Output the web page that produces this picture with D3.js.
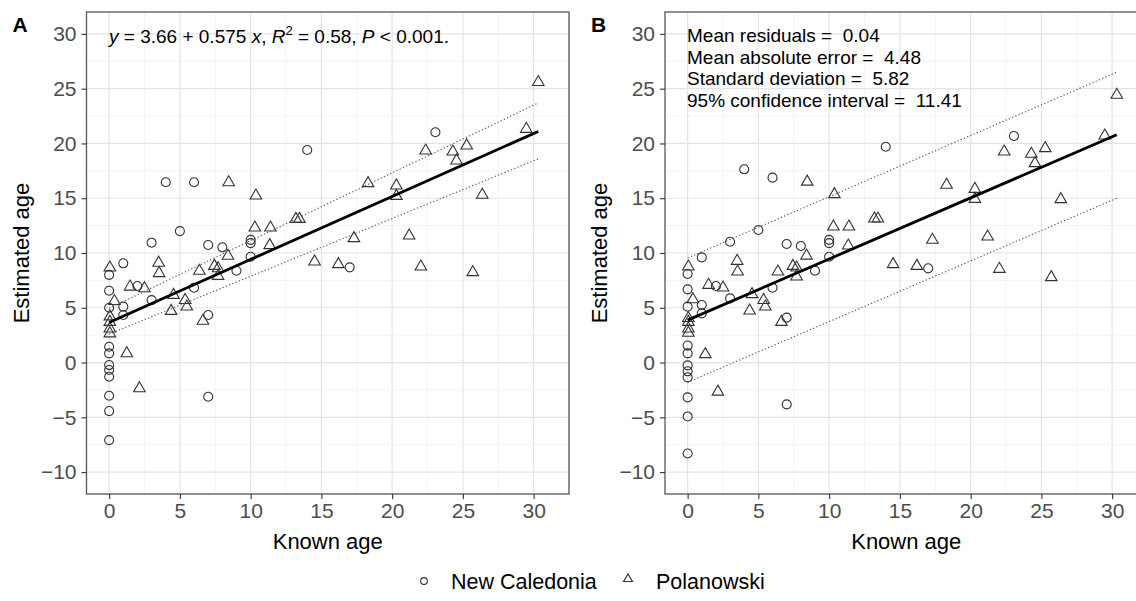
<!DOCTYPE html>
<html>
<head>
<meta charset="utf-8">
<script src="https://cdn.jsdelivr.net/npm/d3@7"></script>
<style>
  body { margin: 0; background: #fff; }
  text { font-family: "Liberation Sans", Arial, sans-serif; }
</style>
</head>
<body>
<svg id="chart" width="1136" height="601"></svg>
<script>
// New Caledonia (circles): known age, estimated age in A and in B
const ncKnown = [0, 0, 0, 0, 0, 0, 0, 0, 0, 0, 0,
  1.0, 1.0, 1.0, 2.0, 3.0, 3.0, 4.0, 5.0, 6.0, 6.0, 7.0, 7.0, 7.0,
  8.0, 9.0, 10.0, 10.0, 10.0, 14.0, 17.0, 23.06]
const ncEstA = [8.0, 6.55, 5.0, 1.44, 0.84, -0.23, -0.68, -1.3, -3.03, -4.43, -7.08,
  9.06, 5.1, 4.34, 6.99, 5.7, 10.94, 16.46, 12.0, 16.46, 6.83, 10.73, 4.34, -3.12,
  10.52, 8.38, 11.2, 10.9, 9.66, 19.4, 8.69, 21.02]
const ncEstB = [8.08, 6.68, 5.1, 1.55, 0.84, -0.26, -0.8, -1.35, -3.18, -4.92, -8.3,
  9.6, 5.25, 4.49, 6.99, 5.86, 11.03, 17.64, 12.1, 16.88, 6.83, 10.82, 4.1, -3.82,
  10.64, 8.38, 11.2, 10.9, 9.66, 19.7, 8.6, 20.68]

// Polanowski (triangles)
const polKnown = [0.05, 0.37, 0.05, 0.05, 0.05, 0.05, 1.25, 1.48, 2.14, 2.5,
  3.5, 3.53, 4.38, 4.55, 5.37, 5.49, 6.38, 6.63, 7.44, 7.7, 7.7, 8.4, 8.45,
  10.3, 10.37, 11.35, 11.4, 13.2, 13.45, 14.52, 16.2, 17.3, 18.3, 20.3, 20.3,
  21.2, 22.03, 22.37, 24.29, 24.55, 25.27, 25.7, 26.37, 29.48, 30.33]
const polEstA = [8.66, 5.6, 4.2, 3.7, 3.1, 2.65, 0.84, 6.92, -2.36, 6.77,
  9.1, 8.15, 4.7, 6.16, 5.7, 5.1, 8.36, 3.8, 8.81, 8.6, 7.9, 9.73, 16.44,
  12.31, 15.23, 10.7, 12.31, 13.1, 13.1, 9.21, 8.97, 11.34, 16.36, 16.15, 15.2,
  11.58, 8.75, 19.34, 19.25, 18.43, 19.8, 8.24, 15.3, 21.32, 25.59]
const polEstB = [8.75, 5.77, 4.05, 3.7, 3.1, 2.7, 0.75, 7.08, -2.67, 6.83,
  9.27, 8.29, 4.73, 6.23, 5.7, 5.1, 8.29, 3.7, 8.81, 8.66, 7.84, 9.75, 16.5,
  12.4, 15.36, 10.67, 12.4, 13.13, 13.13, 8.97, 8.81, 11.19, 16.21, 15.84, 14.93,
  11.49, 8.54, 19.25, 19.04, 18.19, 19.56, 7.78, 14.9, 20.71, 24.43]

// fitted line and dotted band, values at the two ends of the known-age range
const lineX = [0, 30.33]
const fitA = [3.66, 21.1]
const upperA = [4.95, 23.7]
const lowerA = [2.6, 18.6]
const fitB = [3.87, 20.8]
const upperB = [9.55, 26.5]
const lowerB = [-1.8, 15.0]

const xTicks = [0, 5, 10, 15, 20, 25, 30]
const yTicks = [-10, -5, 0, 5, 10, 15, 20, 25, 30]
const xMinor = [2.5, 7.5, 12.5, 17.5, 22.5, 27.5, 32.5]
const yMinor = [-7.5, -2.5, 2.5, 7.5, 12.5, 17.5, 22.5, 27.5]

const notesB = ["Mean residuals =  0.04", "Mean absolute error =  4.48",
  "Standard deviation =  5.82", "95% confidence interval =  11.41"]
const legendNames = ["New Caledonia", "Polanowski"]

const svg = d3.select("#chart")
const plotTop = 12, plotBottom = 494, panelW = 482.5

const y = d3.scaleLinear().domain([-12, 32]).range([plotBottom, plotTop])

let circleSym = d3.symbol().type(d3.symbolCircle).size(64)
let triSym = d3.symbol().type(d3.symbolTriangle).size(58)

var drawPanel = function(left, tag, estNC, estPol, fit, upper, lower) {
    let x = d3.scaleLinear().domain([-1.6, 32.5]).range([left, left + panelW])
    let g = svg.append("g")

    // grid
    g.selectAll(".vminor").data(xMinor).enter().append("line")
        .attr("x1", d => x(d)).attr("x2", d => x(d))
        .attr("y1", plotTop).attr("y2", plotBottom)
        .attr("stroke", "#efefef").attr("stroke-width", 0.7)
    g.selectAll(".hminor").data(yMinor).enter().append("line")
        .attr("x1", left).attr("x2", left + panelW)
        .attr("y1", d => y(d)).attr("y2", d => y(d))
        .attr("stroke", "#efefef").attr("stroke-width", 0.7)
    g.selectAll(".vmajor").data(xTicks).enter().append("line")
        .attr("x1", d => x(d)).attr("x2", d => x(d))
        .attr("y1", plotTop).attr("y2", plotBottom)
        .attr("stroke", "#e4e4e4").attr("stroke-width", 1.2)
    g.selectAll(".hmajor").data(yTicks).enter().append("line")
        .attr("x1", left).attr("x2", left + panelW)
        .attr("y1", d => y(d)).attr("y2", d => y(d))
        .attr("stroke", "#e4e4e4").attr("stroke-width", 1.2)

    // points
    g.selectAll(".nc").data(ncKnown).enter().append("path")
        .attr("d", circleSym)
        .attr("transform", (d, i) => "translate(" + x(d) + "," + y(estNC[i]) + ")")
        .attr("fill", "none").attr("stroke", "#333").attr("stroke-width", 1.1)
    g.selectAll(".pol").data(polKnown).enter().append("path")
        .attr("d", triSym)
        .attr("transform", (d, i) => "translate(" + x(d) + "," + y(estPol[i]) + ")")
        .attr("fill", "none").attr("stroke", "#333").attr("stroke-width", 1.1)

    // lines
    let line = d3.line().x(d => x(d[0])).y(d => y(d[1]))
    ;[upper, lower].forEach(arr => {
        g.append("path").datum(lineX.map((v, i) => [v, arr[i]]))
            .attr("d", line).attr("fill", "none")
            .attr("stroke", "#555").attr("stroke-width", 1.1)
            .attr("stroke-dasharray", "1.3,2.2")
    })
    g.append("path").datum(lineX.map((v, i) => [v, fit[i]]))
        .attr("d", line).attr("fill", "none")
        .attr("stroke", "#000").attr("stroke-width", 2.8)

    // border
    g.append("rect").attr("x", left).attr("y", plotTop)
        .attr("width", panelW).attr("height", plotBottom - plotTop)
        .attr("fill", "none").attr("stroke", "#555").attr("stroke-width", 1.3)

    // axes
    let ax = g.append("g").attr("transform", "translate(0," + plotBottom + ")")
        .call(d3.axisBottom(x).tickValues(xTicks).tickSize(5).tickPadding(4))
    let ay = g.append("g").attr("transform", "translate(" + left + ",0)")
        .call(d3.axisLeft(y).tickValues(yTicks).tickSize(5).tickPadding(5))
    ;[ax, ay].forEach(a => {
        a.select(".domain").remove()
        a.selectAll("line").attr("stroke", "#333").attr("stroke-width", 1.1)
        a.selectAll("text").attr("fill", "#4d4d4d")
            .style("font-size", "21px").style("font-family", "Liberation Sans, Arial, sans-serif")
    })

    g.append("text").attr("x", left + panelW / 2).attr("y", 549)
        .attr("text-anchor", "middle").style("font-size", "22px")
        .text("Known age")
    g.append("text")
        .attr("transform", "translate(" + (left - 58) + "," + ((plotTop + plotBottom) / 2) + ") rotate(-90)")
        .attr("text-anchor", "middle").style("font-size", "22px")
        .text("Estimated age")
    g.append("text").attr("x", left - 74).attr("y", 32)
        .style("font-size", "21px").style("font-weight", "bold")
        .text(tag)
    return g
}

let gA = drawPanel(86.5, "A", ncEstA, polEstA, fitA, upperA, lowerA)
let gB = drawPanel(665, "B", ncEstB, polEstB, fitB, upperB, lowerB)

// panel A equation
let eq = gA.append("text").attr("x", 109).attr("y", 43).style("font-size", "19px")
eq.append("tspan").style("font-style", "italic").text("y")
eq.append("tspan").text(" = 3.66 + 0.575 ")
eq.append("tspan").style("font-style", "italic").text("x")
eq.append("tspan").text(", ")
eq.append("tspan").style("font-style", "italic").text("R")
eq.append("tspan").attr("dy", -8).style("font-size", "13px").text("2")
eq.append("tspan").attr("dy", 8).text(" = 0.58, ")
eq.append("tspan").style("font-style", "italic").text("P")
eq.append("tspan").text(" < 0.001.")

// panel B statistics
gB.selectAll(".note").data(notesB).enter().append("text")
    .attr("x", 687).attr("y", (d, i) => 42 + i * 21.5)
    .style("font-size", "19px").style("white-space", "pre")
    .text(d => d)

// legend
let leg = svg.append("g")
leg.append("path").attr("d", d3.symbol().type(d3.symbolCircle).size(36))
    .attr("transform", "translate(424,581)")
    .attr("fill", "none").attr("stroke", "#333").attr("stroke-width", 1.1)
leg.append("text").attr("x", 451).attr("y", 589).style("font-size", "21.5px").text(legendNames[0])
leg.append("path").attr("d", d3.symbol().type(d3.symbolTriangle).size(34))
    .attr("transform", "translate(628,579)")
    .attr("fill", "none").attr("stroke", "#333").attr("stroke-width", 1.1)
leg.append("text").attr("x", 656).attr("y", 589).style("font-size", "21.5px").text(legendNames[1])
</script>
</body>
</html>
